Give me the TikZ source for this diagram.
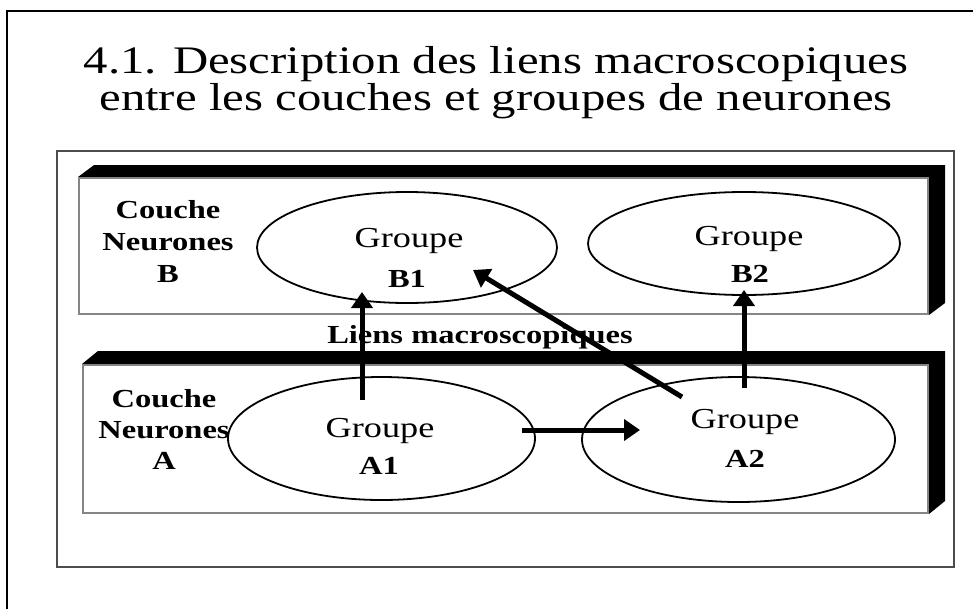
\documentclass[tikz,border=0pt]{standalone}
\usepackage{fontspec}
\setmainfont{Liberation Serif}[FakeStretch=1.25]
\usetikzlibrary{shapes.geometric,arrows.meta,backgrounds}

\begin{document}
\begin{tikzpicture}[x=1pt,y=-1pt,
  titletext/.style={anchor=base,inner sep=0pt,font=\fontsize{39}{39}\selectfont},
  layertext/.style={anchor=base,inner sep=0pt,font=\fontsize{26}{26}\selectfont\bfseries},
  grptext/.style={anchor=base,inner sep=0pt,font=\fontsize{29}{29}\selectfont},
  grpname/.style={anchor=base,inner sep=0pt,font=\fontsize{26}{26}\selectfont\bfseries},
  grp/.style={ellipse,draw=black,line width=1.8pt,fill=white,inner sep=0pt},
  layer/.style={rectangle,draw=black!48,line width=2pt,fill=white,inner sep=0pt,anchor=north west},
  slab/.style={fill=black},
  link/.style={line width=5pt,-{Triangle[length=16pt,width=21pt]}}]

\useasboundingbox (0,0) rectangle (973,608);

% outer frame (runs past the right and bottom edges)
\draw[line width=2.5pt] (985,11) -- (7,11) -- (7,620);

% title
\node[titletext] (title1) at (496,73) {4.1. Description des liens macroscopiques};
\node[titletext] (title2) at (496,110) {entre les couches et groupes de neurones};

% panel
\node[rectangle,draw=black!70,line width=1.5pt,inner sep=0pt,anchor=north west,
      minimum width=897pt,minimum height=416pt] (panel) at (56,150) {};

% layer B with its raised top and right faces
\node[layer,minimum width=849pt,minimum height=136pt] (layerB) at (78,177) {};
\begin{scope}[on background layer]
  \fill[slab] (layerB.north west) -- ++(16,-12)
    -- ([shift={(16,-12)}]layerB.north east)
    -- ([shift={(16,-12)}]layerB.south east)
    -- (layerB.south east) -- (layerB.north east) -- cycle;
\end{scope}

% layer A with its raised top and right faces
\node[layer,minimum width=845pt,minimum height=148pt] (layerA) at (82,364) {};
\begin{scope}[on background layer]
  \fill[slab] (layerA.north west) -- ++(16,-13)
    -- ([shift={(16,-13)}]layerA.north east)
    -- ([shift={(16,-13)}]layerA.south east)
    -- (layerA.south east) -- (layerA.north east) -- cycle;
\end{scope}

% layer labels
\node[layertext] (cB1) at (168,218) {Couche};
\node[layertext] (cB2) at (168,250) {Neurones};
\node[layertext] (cB3) at (168,282) {B};
\node[layertext] (cA1) at (164,407) {Couche};
\node[layertext] (cA2) at (164,438) {Neurones};
\node[layertext] (cA3) at (164,469) {A};

% groups
\node[grp,minimum width=300pt,minimum height=111pt] (b1) at (407,247.5) {};
\node[grp,minimum width=312pt,minimum height=103pt] (b2) at (744,243.5) {};
\node[grp,minimum width=307pt,minimum height=123pt] (a1) at (381.5,438.5) {};
\node[grp,minimum width=313pt,minimum height=125pt] (a2) at (738.5,439.5) {};

\node[grptext] (b1g) at (409,247) {Groupe};
\node[grpname] (b1n) at (407,287) {B1};
\node[grptext] (b2g) at (749,245) {Groupe};
\node[grpname] (b2n) at (750,282) {B2};
\node[grptext] (a1g) at (380,437) {Groupe};
\node[grpname] (a1n) at (379,474) {A1};
\node[grptext] (a2g) at (745,428) {Groupe};
\node[grpname] (a2n) at (745,467) {A2};

% links label
\node[layertext] (liens) at (480,343) {Liens macroscopiques};

% link end points
\coordinate (a1up) at (362,400);
\coordinate (b1low) at (362,292);
\coordinate (a2up) at (744,388);
\coordinate (b2low) at (744,290);
\coordinate (a1right) at (522,430);
\coordinate (a2left) at (640,430);
\coordinate (a2diag) at (682,397);
\coordinate (b1diag) at (473,270);

% links
\draw[link] (a1up) -- (b1low);
\draw[link] (a2up) -- (b2low);
\draw[link] (a1right) -- (a2left);
\draw[link] (a2diag) -- (b1diag);

\end{tikzpicture}
\end{document}
